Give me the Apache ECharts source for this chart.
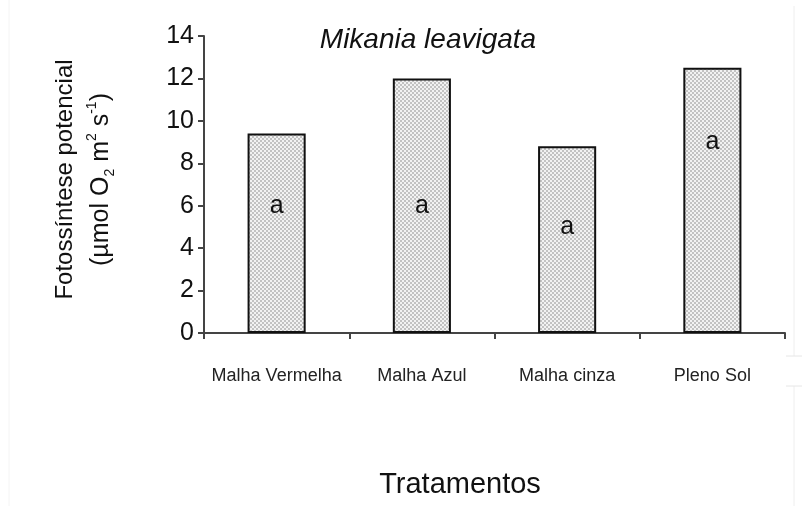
<!DOCTYPE html>
<html>
<head>
<meta charset="utf-8">
<script src="https://cdn.jsdelivr.net/npm/echarts@6/dist/echarts.min.js"></script>
<style>
  html, body { margin: 0; padding: 0; background: #fff; }
  #chart { width: 802px; height: 506px; }
</style>
</head>
<body>
<div id="chart"></div>
<script>
var tratamentos = ['Malha Vermelha', 'Malha Azul', 'Malha cinza', 'Pleno Sol'];
var fotossintese = [9.4, 12.0, 8.8, 12.5];
var letras = ['a', 'a', 'a', 'a'];
var letraY = [6, 6, 5, 9]; // altura da letra, em unidades do eixo y
var yTicks = [0, 2, 4, 6, 8, 10, 12, 14];

// textura pontilhada das barras
function makePattern() {
    var c = document.createElement('canvas');
    c.width = 4; c.height = 4;
    var ctx = c.getContext('2d');
    ctx.fillStyle = '#f2f2f2';
    ctx.fillRect(0, 0, 4, 4);
    ctx.fillStyle = '#c2c2c2';
    ctx.fillRect(0, 0, 2, 2);
    ctx.fillRect(2, 2, 2, 2);
    return c;
}

var chart = echarts.init(document.getElementById('chart'));
var font = '"Liberation Sans", Arial, sans-serif';

var option = {
    backgroundColor: '#fff',
    animation: false,
    title: [{
        text: 'Mikania leavigata',
        left: 423,
        textAlign: 'center',
        top: 21,
        textStyle: { fontFamily: font, fontStyle: 'italic', fontWeight: 'normal', fontSize: 28, color: '#111' }
    }, {
        text: 'Tratamentos',
        left: 455,
        textAlign: 'center',
        top: 465,
        textStyle: { fontFamily: font, fontWeight: 'normal', fontSize: 29, color: '#111' }
    }],
    grid: { left: 204, right: 17, top: 36, bottom: 173 },
    xAxis: {
        type: 'category',
        data: tratamentos,
        axisLine: { lineStyle: { color: '#444', width: 2 } },
        axisTick: { show: true, interval: 0, length: 6, lineStyle: { color: '#444', width: 2 } },
        axisLabel: { interval: 0, fontFamily: font, fontSize: 18, color: '#222', margin: 34 }
    },
    yAxis: {
        type: 'value',
        min: 0,
        max: 14,
        interval: 2,
        splitLine: { show: false },
        axisLine: { show: true, lineStyle: { color: '#444', width: 2 } },
        axisTick: { show: true, length: 6, lineStyle: { color: '#444', width: 2 } },
        axisLabel: {
            fontFamily: font, fontSize: 25, color: '#111', margin: 10,
            formatter: function (v) { return yTicks.indexOf(v) >= 0 ? String(v) : ''; }
        },
        name: '{a|Fotossíntese potencial}\n{b|(µmol O}{sub|2}{b| m}{sup|2}{b| s}{sup|-1}{b|)}',
        nameLocation: 'middle',
        nameRotate: 90,
        nameGap: 87,
        nameTextStyle: {
            align: 'center',
            padding: [0, 0, 0, 10],
            rich: {
                a: { fontFamily: font, fontSize: 24, color: '#111', lineHeight: 40 },
                b: { fontFamily: font, fontSize: 25, color: '#111', lineHeight: 32 },
                sub: { fontFamily: font, fontSize: 14, color: '#111', lineHeight: 12, verticalAlign: 'bottom' },
                sup: { fontFamily: font, fontSize: 14, color: '#111', lineHeight: 12, verticalAlign: 'top' }
            }
        }
    },
    series: [
        {
            type: 'bar',
            data: fotossintese,
            barWidth: '40%',
            itemStyle: {
                color: { image: makePattern(), repeat: 'repeat' },
                borderColor: '#111',
                borderWidth: 2
            }
        },
        {
            type: 'scatter',
            data: letraY,
            symbolSize: 0,
            itemStyle: { color: '#111', opacity: 1 },
            label: {
                show: true,
                position: 'inside',
                formatter: function (p) { return letras[p.dataIndex]; },
                fontFamily: font,
                fontSize: 25,
                color: '#111',
                opacity: 1,
                textBorderWidth: 0
            }
        }
    ],
    graphic: [
        { type: 'line', shape: { x1: 9, y1: 0, x2: 9, y2: 506 }, style: { stroke: '#f4f4f4', lineWidth: 1 } },
        { type: 'line', shape: { x1: 794, y1: 6, x2: 794, y2: 356 }, style: { stroke: '#eeeeee', lineWidth: 1 } },
        { type: 'line', shape: { x1: 794, y1: 386, x2: 794, y2: 506 }, style: { stroke: '#eeeeee', lineWidth: 1 } },
        { type: 'line', shape: { x1: 786, y1: 356, x2: 802, y2: 356 }, style: { stroke: '#e6e6e6', lineWidth: 1 } },
        { type: 'line', shape: { x1: 786, y1: 386, x2: 802, y2: 386 }, style: { stroke: '#e6e6e6', lineWidth: 1 } }
    ]
};

chart.setOption(option);
</script>
</body>
</html>
